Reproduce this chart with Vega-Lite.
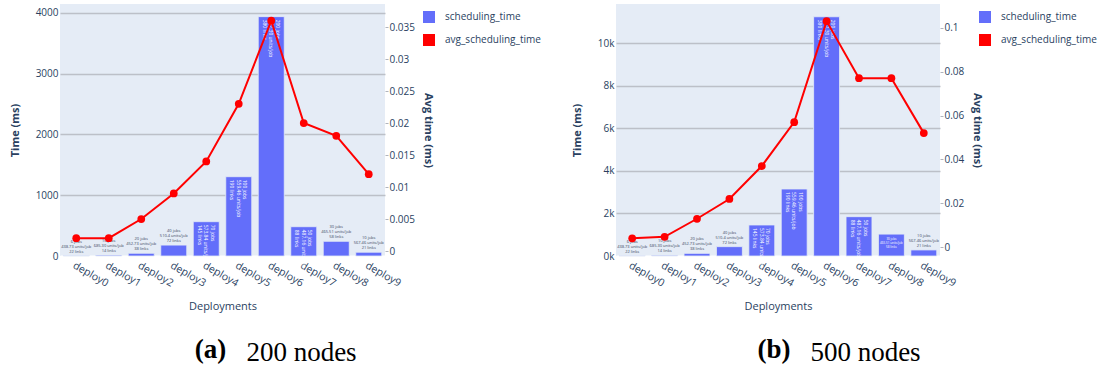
{
  "$schema": "https://vega.github.io/schema/vega-lite/v6.json",
  "background": "white",
  "padding": {"left": 9, "top": 4, "right": 0, "bottom": 0},
  "datasets": {
    "nodes200": [
      {"deployment": "deploy0", "time": 5, "avg": 0.002, "info": "6 jobs\n438.73 units/job\n22 links"},
      {"deployment": "deploy1", "time": 14, "avg": 0.002, "info": "10 jobs\n685.30 units/job\n14 links"},
      {"deployment": "deploy2", "time": 45, "avg": 0.005, "info": "20 jobs\n452.73 units/job\n38 links"},
      {"deployment": "deploy3", "time": 180, "avg": 0.009, "info": "40 jobs\n510.4 units/job\n72 links"},
      {"deployment": "deploy4", "time": 565, "avg": 0.014, "info": "70 jobs\n573.84 units/job\n145 links"},
      {"deployment": "deploy5", "time": 1305, "avg": 0.023, "info": "100 jobs\n559.46 units/job\n190 links"},
      {"deployment": "deploy6", "time": 3940, "avg": 0.036, "info": "200 jobs\n547.30 units/job\n380 links"},
      {"deployment": "deploy7", "time": 482, "avg": 0.020, "info": "50 jobs\n487.16 units/job\n88 links"},
      {"deployment": "deploy8", "time": 242, "avg": 0.018, "info": "30 jobs\n465.51 units/job\n58 links"},
      {"deployment": "deploy9", "time": 62, "avg": 0.012, "info": "10 jobs\n567.46 units/job\n21 links"}
    ],
    "nodes500": [
      {"deployment": "deploy0", "time": 11, "avg": 0.0041, "info": "6 jobs\n438.73 units/job\n22 links"},
      {"deployment": "deploy1", "time": 33, "avg": 0.0048, "info": "10 jobs\n685.30 units/job\n14 links"},
      {"deployment": "deploy2", "time": 125, "avg": 0.013, "info": "20 jobs\n452.73 units/job\n38 links"},
      {"deployment": "deploy3", "time": 440, "avg": 0.022, "info": "40 jobs\n510.4 units/job\n72 links"},
      {"deployment": "deploy4", "time": 1458, "avg": 0.037, "info": "70 jobs\n573.84 units/job\n145 links"},
      {"deployment": "deploy5", "time": 3150, "avg": 0.057, "info": "100 jobs\n559.46 units/job\n190 links"},
      {"deployment": "deploy6", "time": 11250, "avg": 0.103, "info": "200 jobs\n547.30 units/job\n380 links"},
      {"deployment": "deploy7", "time": 1850, "avg": 0.077, "info": "50 jobs\n487.16 units/job\n88 links"},
      {"deployment": "deploy8", "time": 1030, "avg": 0.077, "info": "30 jobs\n465.51 units/job\n58 links"},
      {"deployment": "deploy9", "time": 285, "avg": 0.052, "info": "10 jobs\n567.46 units/job\n21 links"}
    ]
  },
  "bounds": "flush",
  "spacing": 231,
  "resolve": {"scale": {"color": "independent"}, "legend": {"color": "independent"}},
  "hconcat": [
    {
      "data": {"name": "nodes200"},
      "width": 325,
      "height": 252,
      "title": {"text": "(a)", "orient": "bottom", "anchor": "middle", "frame": "group", "dx": -12, "dy": -28, "offset": 0, "font": "Liberation Serif", "fontSize": 27, "fontWeight": "bold", "color": "black"},
      "resolve": {"scale": {"y": "independent"}, "axis": {"x": "independent"}},
      "layer": [
        {
          "layer": [
            {
              "mark": {"type": "bar", "stroke": "#e5ecf6", "strokeWidth": 0.8},
              "encoding": {
                "x": {"field": "deployment", "type": "nominal", "sort": null, "scale": {"paddingInner": 0.2, "paddingOuter": 0.1},
                  "axis": {"orient": "bottom", "title": "Deployments", "labelAngle": 30, "labelAlign": "left", "labelBaseline": "top", "labelPadding": 4, "labelFontSize": 10.5, "titleFontSize": 11, "titleFontWeight": "normal", "titlePadding": 12, "grid": false}},
                "y": {"field": "time", "type": "quantitative", "scale": {"domain": [0, 4148], "nice": false, "zero": false},
                  "axis": {"orient": "left", "title": "Time (ms)", "values": [0, 500, 1000, 1500, 2000, 2500, 3000, 3500, 4000], "format": "d", "labelPadding": 2, "titlePadding": 15,
                    "gridColor": {"condition": {"test": "datum.value === 0", "value": "#ffffff"}, "value": "#bcc0c8"},
                    "gridWidth": {"condition": {"test": "datum.value === 0", "value": 2}, "value": 1.5}}},
                "color": {"datum": "scheduling_time", "type": "nominal",
                  "scale": {"domain": ["scheduling_time", "avg_scheduling_time"], "range": ["#636efa", "#ff0000"]},
                  "legend": {"orient": "none", "legendX": 363, "legendY": 7}}
              }
            },
            {
              "transform": [{"filter": "datum.time < 400"}],
              "mark": {"type": "text", "baseline": "bottom", "dy": -12, "fontSize": 4, "lineHeight": 5, "lineBreak": "\n", "color": "#3a4660"},
              "encoding": {
                "x": {"field": "deployment", "type": "nominal", "sort": null},
                "y": {"field": "time", "type": "quantitative"},
                "text": {"field": "info", "type": "nominal"}
              }
            },
            {
              "transform": [{"filter": "datum.time >= 400"}],
              "mark": {"type": "text", "angle": 90, "align": "left", "baseline": "middle", "dx": 3, "dy": -6.5, "fontSize": 5, "lineHeight": 6.5, "lineBreak": "\n", "color": "#ffffff"},
              "encoding": {
                "x": {"field": "deployment", "type": "nominal", "sort": null},
                "y": {"field": "time", "type": "quantitative"},
                "text": {"field": "info", "type": "nominal"}
              }
            }
          ]
        },
        {
          "mark": {"type": "line", "strokeWidth": 2, "point": {"filled": true, "size": 60}},
          "encoding": {
            "x": {"field": "deployment", "type": "nominal", "sort": null,
              "axis": {"orient": "bottom", "labels": false, "ticks": false, "domain": false, "grid": false, "title": "200 nodes",
                "titleFont": "Liberation Serif", "titleFontSize": 27, "titleFontWeight": "normal", "titleColor": "black",
                "titleX": 241, "titleY": 104, "titleAlign": "center", "titleBaseline": "alphabetic", "titleAngle": 0}},
            "y": {"field": "avg", "type": "quantitative", "scale": {"domain": [-0.00078, 0.0386], "nice": false, "zero": false},
              "axis": {"orient": "right", "title": "Avg time (ms)", "values": [0, 0.005, 0.01, 0.015, 0.02, 0.025, 0.03, 0.035], "format": "~g", "ticks": true, "tickSize": 3, "tickColor": "#b0b4bc", "labelPadding": 1, "titlePadding": 8,
                "gridColor": {"condition": {"test": "datum.value === 0", "value": "#ffffff"}, "value": "#b0b4bc"},
                "gridWidth": {"condition": {"test": "datum.value === 0", "value": 2}, "value": 1.5}}},
            "color": {"datum": "avg_scheduling_time", "type": "nominal", "legend": null}
          }
        }
      ]
    },
    {
      "data": {"name": "nodes500"},
      "width": 324,
      "height": 252,
      "title": {"text": "(b)", "orient": "bottom", "anchor": "middle", "frame": "group", "dx": -4, "dy": -28, "offset": 0, "font": "Liberation Serif", "fontSize": 27, "fontWeight": "bold", "color": "black"},
      "resolve": {"scale": {"y": "independent"}, "axis": {"x": "independent"}},
      "layer": [
        {
          "layer": [
            {
              "mark": {"type": "bar", "stroke": "#e5ecf6", "strokeWidth": 0.8},
              "encoding": {
                "x": {"field": "deployment", "type": "nominal", "sort": null, "scale": {"paddingInner": 0.2, "paddingOuter": 0.1},
                  "axis": {"orient": "bottom", "title": "Deployments", "labelAngle": 30, "labelAlign": "left", "labelBaseline": "top", "labelPadding": 4, "labelFontSize": 10.5, "titleFontSize": 11, "titleFontWeight": "normal", "titlePadding": 12, "grid": false}},
                "y": {"field": "time", "type": "quantitative", "scale": {"domain": [0, 11850], "nice": false, "zero": false},
                  "axis": {"orient": "left", "title": "Time (ms)", "values": [0, 2000, 4000, 6000, 8000, 10000], "format": "~s", "labelPadding": 2, "titlePadding": 15,
                    "gridColor": {"condition": {"test": "datum.value === 0", "value": "#ffffff"}, "value": "#bcc0c8"},
                    "gridWidth": {"condition": {"test": "datum.value === 0", "value": 2}, "value": 1.5}}},
                "color": {"datum": "scheduling_time", "type": "nominal",
                  "scale": {"domain": ["scheduling_time", "avg_scheduling_time"], "range": ["#636efa", "#ff0000"]},
                  "legend": {"orient": "none", "legendX": 363, "legendY": 7}}
              }
            },
            {
              "transform": [{"filter": "datum.time < 900"}],
              "mark": {"type": "text", "baseline": "bottom", "dy": -12, "fontSize": 4, "lineHeight": 5, "lineBreak": "\n", "color": "#3a4660"},
              "encoding": {
                "x": {"field": "deployment", "type": "nominal", "sort": null},
                "y": {"field": "time", "type": "quantitative"},
                "text": {"field": "info", "type": "nominal"}
              }
            },
            {
              "transform": [{"filter": "datum.time >= 900 && datum.time < 1200"}],
              "mark": {"type": "text", "baseline": "top", "dy": 4, "fontSize": 3, "lineHeight": 4, "lineBreak": "\n", "color": "#ffffff"},
              "encoding": {
                "x": {"field": "deployment", "type": "nominal", "sort": null},
                "y": {"field": "time", "type": "quantitative"},
                "text": {"field": "info", "type": "nominal"}
              }
            },
            {
              "transform": [{"filter": "datum.time >= 1200"}],
              "mark": {"type": "text", "angle": 90, "align": "left", "baseline": "middle", "dx": 3, "dy": -6.5, "fontSize": 5, "lineHeight": 6.5, "lineBreak": "\n", "color": "#ffffff"},
              "encoding": {
                "x": {"field": "deployment", "type": "nominal", "sort": null},
                "y": {"field": "time", "type": "quantitative"},
                "text": {"field": "info", "type": "nominal"}
              }
            }
          ]
        },
        {
          "mark": {"type": "line", "strokeWidth": 2, "point": {"filled": true, "size": 60}},
          "encoding": {
            "x": {"field": "deployment", "type": "nominal", "sort": null,
              "axis": {"orient": "bottom", "labels": false, "ticks": false, "domain": false, "grid": false, "title": "500 nodes",
                "titleFont": "Liberation Serif", "titleFontSize": 27, "titleFontWeight": "normal", "titleColor": "black",
                "titleX": 249, "titleY": 104, "titleAlign": "center", "titleBaseline": "alphabetic", "titleAngle": 0}},
            "y": {"field": "avg", "type": "quantitative", "scale": {"domain": [-0.00396, 0.1108], "nice": false, "zero": false},
              "axis": {"orient": "right", "title": "Avg time (ms)", "values": [0, 0.02, 0.04, 0.06, 0.08, 0.1], "format": "~g", "ticks": true, "tickSize": 3, "tickColor": "#b0b4bc", "labelPadding": 1, "titlePadding": 8,
                "gridColor": {"condition": {"test": "datum.value === 0", "value": "#ffffff"}, "value": "#b0b4bc"},
                "gridWidth": {"condition": {"test": "datum.value === 0", "value": 2}, "value": 1.5}}},
            "color": {"datum": "avg_scheduling_time", "type": "nominal", "legend": null}
          }
        }
      ]
    }
  ],
  "config": {
    "view": {"fill": "#e5ecf6", "stroke": null},
    "font": "Open Sans",
    "title": {"offset": 0},
    "axis": {
      "labelFont": "Open Sans", "titleFont": "Open Sans", "labelColor": "#2a3f5f", "titleColor": "#2a3f5f",
      "labelFontSize": 10, "titleFontSize": 11, "titleFontWeight": "bold", "domain": false, "ticks": false
    },
    "legend": {
      "title": null, "padding": 0, "symbolSize": 100, "labelOffset": 10, "rowPadding": 5,
      "labelFont": "Open Sans", "labelFontSize": 10, "labelColor": "#2a3f5f", "labelLimit": 200,
      "symbolStrokeWidth": 2, "symbolOpacity": 1
    },
    "mark": {"strokeCap": "butt"}
  }
}
